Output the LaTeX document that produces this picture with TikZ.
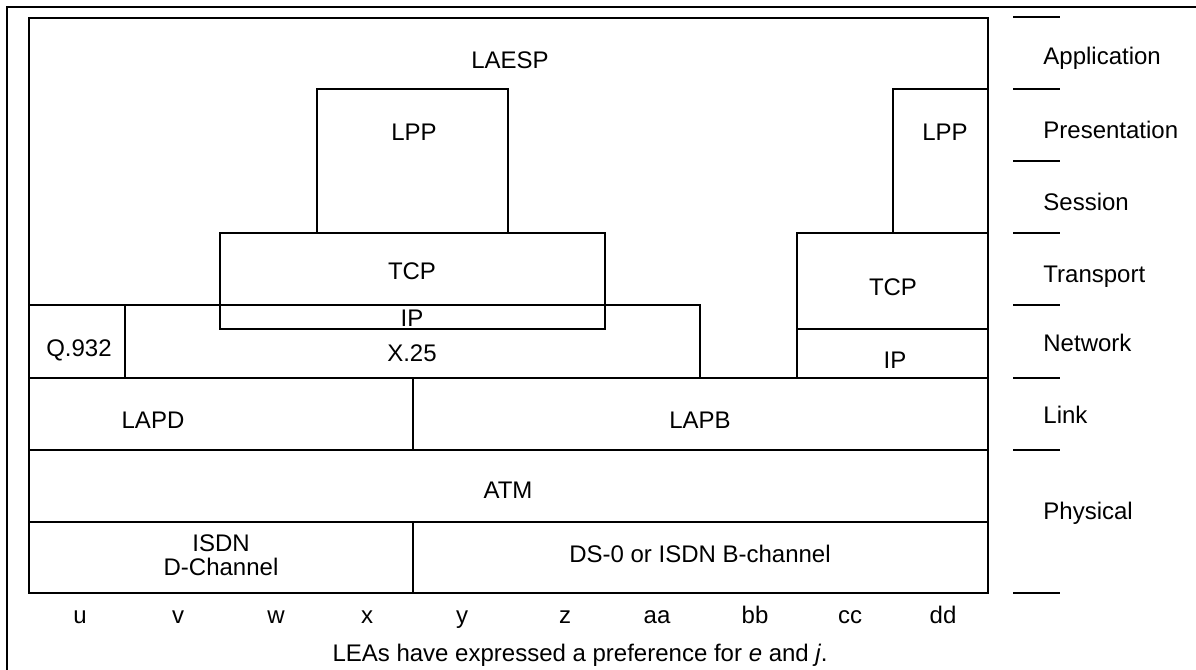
\documentclass[tikz,border=0pt]{standalone}
\usepackage{fontspec}
\setmainfont{Liberation Sans}
\usetikzlibrary{fit}
\begin{document}
\begin{tikzpicture}[x=0.5pt,y=-0.5pt,
  box/.style={draw, line width=0.55pt, inner sep=0pt},
  frame/.style={line width=1.1pt},
  tick/.style={line width=1pt},
  txt/.style={inner sep=0pt, text height=8.6pt, text depth=0pt, font=\fontsize{12}{14}\selectfont},
  lbl/.style={txt, anchor=west}]
\useasboundingbox (0,0) rectangle (1196,670);
% outer frame (continues beyond the picture)
\draw[frame] (7,670) -- (7,7) -- (1196,7);
% boxes
\node[box, fit={(29,305) (125,378)}] (q932) {};
\node[box, fit={(125,305) (700,378)}] (x25) {};
\node[box, fit={(220,233) (605,329)}] (tcpa) {};
\node[box, fit={(317,89) (508,233)}] (lppa) {};
\node[box, fit={(893,89) (988,233)}] (lppb) {};
\node[box, fit={(797,233) (988,329)}] (tcpb) {};
\node[box, fit={(797,329) (988,378)}] (ipb) {};
\node[box, fit={(29,378) (413,450)}] (lapd) {};
\node[box, fit={(413,378) (988,450)}] (lapb) {};
\node[box, fit={(29,450) (988,522)}] (atm) {};
\node[box, fit={(29,522) (413,593)}] (isdn) {};
\node[box, fit={(413,522) (988,593)}] (ds0) {};
\node[box, frame, fit={(29,18) (988,593)}] (laesp) {};
% texts
\node[txt] (tlaesp) at (510,60) {LAESP};
\node[txt] (tlppa) at (414,132) {LPP};
\node[txt] (tlppb) at (945,132) {LPP};
\node[txt] (ttcpa) at (412,271) {TCP};
\node[txt] (tipa) at (412,318) {IP};
\node[txt] (tx25) at (412,353) {X.25};
\node[txt] (tq932) at (79,348) {Q.932};
\node[txt] (ttcpb) at (893,287) {TCP};
\node[txt] (tipb) at (895,360) {IP};
\node[txt] (tlapd) at (153,420) {LAPD};
\node[txt] (tlapb) at (700,420) {LAPB};
\node[txt] (tatm) at (508,490) {ATM};
\node[txt] (tisdn1) at (221,543) {ISDN};
\node[txt] (tisdn2) at (221,567) {D-Channel};
\node[txt] (tds0) at (700,554) {DS-0 or ISDN B-channel};
% column letters
\foreach \n/\xx in {u/80, v/178, w/276, x/367, y/462, z/565, aa/657, bb/755, cc/850, dd/943}
  \node[txt] (col\n) at (\xx,615) {\n};
\node[txt] (caption) at (580,653) {LEAs have expressed a preference for \textit{e} and \textit{j}.};
% OSI layer marks
\foreach \yy in {17,89,161,233,305,378,450,593}
  \draw[tick] (1013,\yy) -- (1060,\yy);
\node[lbl] (lapp) at (1043,56) {Application};
\node[lbl] (lpres) at (1043,130) {Presentation};
\node[lbl] (lsess) at (1043,202) {Session};
\node[lbl] (ltrans) at (1043,274) {Transport};
\node[lbl] (lnet) at (1043,343) {Network};
\node[lbl] (llink) at (1043,415) {Link};
\node[lbl] (lphys) at (1043,511) {Physical};
\end{tikzpicture}
\end{document}
